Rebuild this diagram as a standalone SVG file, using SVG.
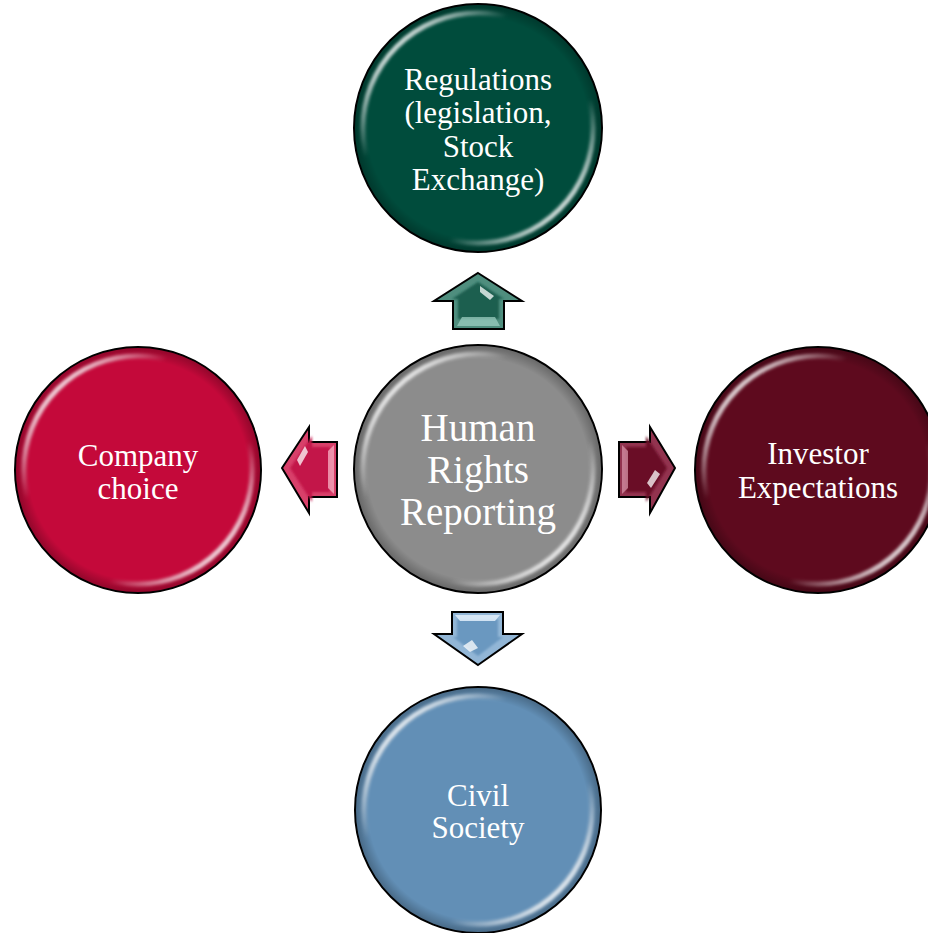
<svg xmlns="http://www.w3.org/2000/svg" width="928" height="933" viewBox="0 0 928 933">
  <style>
    .rim { stroke: #000; stroke-width: 2; }
    .gloss { fill: none; stroke: url(#glossGrad); stroke-width: 5; filter: url(#soft); }
    .shade { fill: url(#shadeGrad); }
    .lbl { font-family: "Liberation Serif", "Times New Roman", serif; fill: #fff; text-anchor: middle; }
    .s31 { font-size: 31px; }
    .s39 { font-size: 39px; }
    .arrow { stroke: #000; stroke-width: 2; stroke-linejoin: miter; }
    .hl { fill: #fff; opacity: 0.75; }
    .inner { filter: url(#soft2); }
  </style>
  <defs>
    <filter id="soft" x="-10%" y="-10%" width="120%" height="120%">
      <feGaussianBlur stdDeviation="1.6"/>
    </filter>
    <filter id="soft2" x="-20%" y="-20%" width="140%" height="140%">
      <feGaussianBlur stdDeviation="1.2"/>
    </filter>
    <linearGradient id="glossGrad" x1="0" y1="0" x2="1" y2="1">
      <stop offset="0" stop-color="#fff" stop-opacity="1"/>
      <stop offset="0.12" stop-color="#fff" stop-opacity="0.9"/>
      <stop offset="0.32" stop-color="#fff" stop-opacity="0"/>
      <stop offset="0.68" stop-color="#fff" stop-opacity="0"/>
      <stop offset="0.88" stop-color="#fff" stop-opacity="0.9"/>
      <stop offset="1" stop-color="#fff" stop-opacity="1"/>
    </linearGradient>
    <radialGradient id="shadeGrad" cx="0.5" cy="0.5" r="0.5">
      <stop offset="0.9" stop-color="#000" stop-opacity="0"/>
      <stop offset="1" stop-color="#000" stop-opacity="0.25"/>
    </radialGradient>
  </defs>

  <g id="connectors">
    <g id="arrow-up">
      <polygon class="arrow" fill="#4f8e7e" points="478,273 522,301 504,301 504,329 453,329 453,301 434,301"/>
      <polygon class="inner" fill="#1f5e4f" points="478,282 504,299 499,299 499,319 458,319 458,299 452,299"/>
      <polygon class="hl" points="480,286 494,296 490,300 480,292"/>
      <polygon fill="#9fd2c4" opacity="0.7" points="462,317 495,317 500,326 457,326"/>
    </g>
    <g id="arrow-left">
      <polygon class="arrow" fill="#d8406a" points="282,468 309,427 309,442 337,442 337,497 309,497 309,513"/>
      <polygon class="inner" fill="#c3164a" points="290,468 312,436 312,447 330,447 330,492 312,492 312,502"/>
      <polygon class="hl" points="297,460 305,446 308,452 300,466"/>
      <polygon fill="#f4a8bd" opacity="0.8" points="328,451 334,445 334,494 328,488"/>
    </g>
    <g id="arrow-right">
      <polygon class="arrow" fill="#92334f" points="675,468 650,427 650,442 619,442 619,497 650,497 650,513"/>
      <polygon class="inner" fill="#6a0f28" points="667,468 646,436 646,447 626,447 626,492 646,492 646,502"/>
      <polygon class="hl" points="660,474 651,488 647,483 655,470"/>
      <polygon fill="#d490a4" opacity="0.75" points="628,451 622,445 622,494 628,488"/>
    </g>
    <g id="arrow-down">
      <polygon class="arrow" fill="#92b6d6" points="478,665 522,634 503,634 503,612 452,612 452,634 434,634"/>
      <polygon class="inner" fill="#6a98c0" points="478,656 503,637 498,637 498,619 457,619 457,637 453,637"/>
      <polygon class="hl" points="463,646 472,640 478,648 470,652"/>
      <polygon fill="#e2effa" opacity="0.85" points="460,621 495,621 500,615 455,615"/>
    </g>
  </g>

  <g id="node-center">
    <circle class="rim" cx="478" cy="469" r="124" fill="#8c8c8c"/>
    <circle class="shade" cx="478" cy="469" r="123"/>
    <circle class="gloss" cx="478" cy="469" r="115"/>
    <text class="lbl s39" x="478" y="441">Human</text>
    <text class="lbl s39" x="478" y="483">Rights</text>
    <text class="lbl s39" x="478" y="525">Reporting</text>
  </g>

  <g id="node-top">
    <circle class="rim" cx="478" cy="128" r="124" fill="#004c3c"/>
    <circle class="shade" cx="478" cy="128" r="123"/>
    <circle class="gloss" cx="478" cy="128" r="115"/>
    <text class="lbl s31" x="478" y="90">Regulations</text>
    <text class="lbl s31" x="478" y="123">(legislation,</text>
    <text class="lbl s31" x="478" y="157">Stock</text>
    <text class="lbl s31" x="478" y="190">Exchange)</text>
  </g>

  <g id="node-left">
    <circle class="rim" cx="138" cy="470" r="123" fill="#c4093a"/>
    <circle class="shade" cx="138" cy="470" r="122"/>
    <circle class="gloss" cx="138" cy="470" r="114"/>
    <text class="lbl s31" x="138" y="466">Company</text>
    <text class="lbl s31" x="138" y="499">choice</text>
  </g>

  <g id="node-right">
    <circle class="rim" cx="818" cy="470" r="123" fill="#5e0a1e"/>
    <circle class="shade" cx="818" cy="470" r="122"/>
    <circle class="gloss" cx="818" cy="470" r="114"/>
    <text class="lbl s31" x="818" y="464">Investor</text>
    <text class="lbl s31" x="818" y="498">Expectations</text>
  </g>

  <g id="node-bottom">
    <circle class="rim" cx="478" cy="810" r="123" fill="#628fb6"/>
    <circle class="shade" cx="478" cy="810" r="122"/>
    <circle class="gloss" cx="478" cy="810" r="114"/>
    <text class="lbl s31" x="478" y="806">Civil</text>
    <text class="lbl s31" x="478" y="838">Society</text>
  </g>
</svg>
